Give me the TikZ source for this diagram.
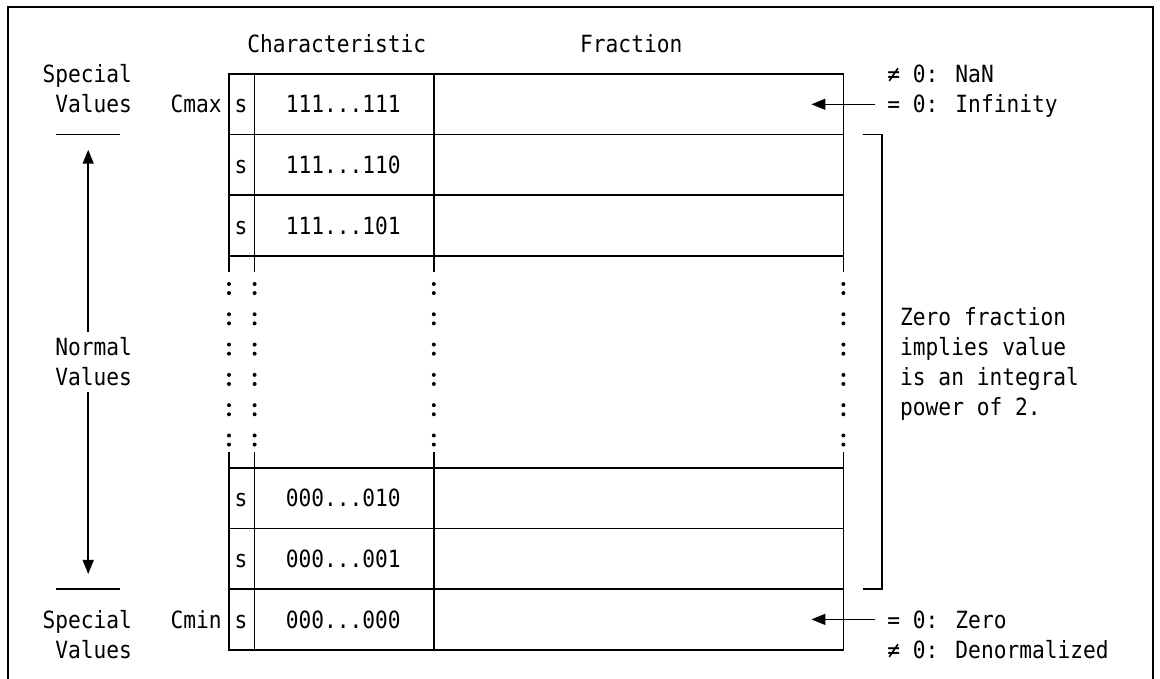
\documentclass[tikz,border=0pt]{standalone}
\usepackage{fontspec}
\newfontfamily\dmono{DejaVu Sans Mono}[FakeStretch=0.895]
\usetikzlibrary{arrows.meta}
\begin{document}
\begin{tikzpicture}[x=12.8pt,y=-30.3pt,
  txt/.style={anchor=base west,inner sep=0pt,font=\dmono\fontsize{23.7pt}{28pt}\selectfont},
  gridline/.style={line width=1.6pt,line cap=rect},
  framestyle/.style={line width=2.2pt},
  arr/.style={line width=1.5pt,-{Triangle[length=14pt,width=11pt]}},
  dotfill/.style={fill=black}
]
\def\b{0.287}
\def\sh{0.58}
\useasboundingbox (-17.890625,-2.44224) rectangle (72.734375,19.967);
% outer frame (open at the bottom)
\draw[framestyle] (-17.266,19.967) -- (-17.266,-2.211) -- (72.2,-2.211) -- (72.2,19.967);

% table horizontal lines
\foreach \k in {0,2,4,6,13,15,17,19} \draw[gridline] (0,\k) -- (48,\k);
% table vertical lines and continuation colons
\foreach \j in {0,2,16,48} {
  \draw[gridline] (\j,0) -- (\j,6.5);
  \draw[gridline] (\j,12.5) -- (\j,19);
  \foreach \k in {7,...,12} {
    \fill[dotfill] (\j,\k-0.07) circle (2pt);
    \fill[dotfill] (\j,\k+0.23) circle (2pt);
  }
}

% column headings
\node[txt] (chr) at (2-\sh,-1+\b) {Characteristic};
\node[txt] (frc) at (28-\sh,-1+\b) {Fraction};

% left labels
\node[txt] (sp1) at (-14-\sh,0+\b) {Special};
\node[txt] (va1) at (-13-\sh,1+\b) {Values};
\node[txt] (nor) at (-13-\sh,9+\b) {Normal};
\node[txt] (va2) at (-13-\sh,10+\b) {Values};
\node[txt] (sp2) at (-14-\sh,18+\b) {Special};
\node[txt] (va3) at (-13-\sh,19+\b) {Values};
\draw[gridline,line cap=butt] (-13.5,2) -- (-8.5,2);
\draw[gridline,line cap=butt] (-13.5,17) -- (-8.5,17);
\coordinate (uptip) at (-11,2.5);
\coordinate (upend) at (-11,8.5);
\coordinate (dnend) at (-11,10.5);
\coordinate (dntip) at (-11,16.5);
\draw[arr] (upend) -- (uptip);
\draw[arr] (dnend) -- (dntip);

\node[txt] (cmax) at (-4-\sh,1+\b) {Cmax};
\node[txt] (cmin) at (-4-\sh,18+\b) {Cmin};

% row contents
\node[txt] (s1) at (1-\sh,1+\b) {s};
\node[txt] (c1) at (5-\sh,1+\b) {111...111};
\node[txt] (s2) at (1-\sh,3+\b) {s};
\node[txt] (c2) at (5-\sh,3+\b) {111...110};
\node[txt] (s3) at (1-\sh,5+\b) {s};
\node[txt] (c3) at (5-\sh,5+\b) {111...101};
\node[txt] (s4) at (1-\sh,14+\b) {s};
\node[txt] (c4) at (5-\sh,14+\b) {000...010};
\node[txt] (s5) at (1-\sh,16+\b) {s};
\node[txt] (c5) at (5-\sh,16+\b) {000...001};
\node[txt] (s6) at (1-\sh,18+\b) {s};
\node[txt] (c6) at (5-\sh,18+\b) {000...000};

% right annotations
\node[txt] (nan) at (52-\sh,0+\b) {≠ 0: NaN};
\node[txt] (inf) at (52-\sh,1+\b) {= 0: Infinity};
\node[txt] (zer) at (52-\sh,18+\b) {= 0: Zero};
\node[txt] (den) at (52-\sh,19+\b) {≠ 0: Denormalized};
\coordinate (infs) at (50.5,1);
\coordinate (inft) at (45.5,1);
\coordinate (zers) at (50.5,18);
\coordinate (zert) at (45.5,18);
\draw[arr] (infs) -- (inft);
\draw[arr] (zers) -- (zert);

% bracket and note
\draw[gridline,line cap=butt] (49.5,2) -- (51,2) -- (51,17) -- (49.5,17);
\node[txt] (n1) at (53-\sh,8+\b) {Zero fraction};
\node[txt] (n2) at (53-\sh,9+\b) {implies value};
\node[txt] (n3) at (53-\sh,10+\b) {is an integral};
\node[txt] (n4) at (53-\sh,11+\b) {power of 2.};
\end{tikzpicture}
\end{document}
